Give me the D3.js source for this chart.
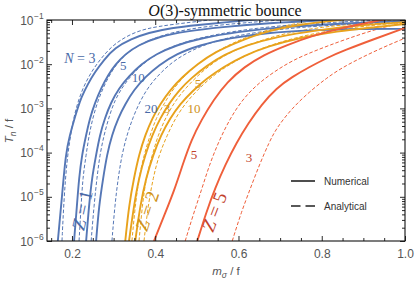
<!DOCTYPE html>
<html><head><meta charset="utf-8">
<script src="https://cdn.jsdelivr.net/npm/d3@7"></script>
<style>body{margin:0;background:#fff;} svg{display:block}</style>
</head><body>
<svg id="c" width="415" height="282"></svg>
<script>
// ---------- data (x = m_sigma / f, y = log10(T_n / f)) ----------
const xMajorTicks = [0.2, 0.4, 0.6, 0.8, 1.0];
const xMinorTicks = [0.15,0.25,0.3,0.35,0.45,0.5,0.55,0.65,0.7,0.75,0.85,0.9,0.95];
const yDecadeExps = [-6, -5, -4, -3, -2, -1];

// Z = 1 (blue)
const z1N3Num = [[0.166,-6.00],[0.176,-5.00],[0.185,-4.01],[0.195,-3.60],[0.205,-3.26],[0.214,-2.99],[0.222,-2.76],[0.238,-2.45],[0.255,-2.18],[0.277,-1.90],[0.303,-1.63],[0.342,-1.43],[0.383,-1.29],[0.438,-1.18],[0.503,-1.11],[0.571,-1.05],[0.655,-0.98]];
const z1N3Ana = [[0.176,-6.00],[0.181,-5.00],[0.188,-4.17],[0.195,-3.71],[0.202,-3.31],[0.212,-2.92],[0.226,-2.54],[0.246,-2.18],[0.270,-1.86],[0.303,-1.52],[0.354,-1.25],[0.407,-1.14],[0.487,-1.05],[0.547,-0.98]];
const z1N5Num = [[0.205,-6.00],[0.212,-5.19],[0.217,-4.57],[0.224,-4.05],[0.234,-3.60],[0.243,-3.22],[0.255,-2.88],[0.270,-2.54],[0.287,-2.24],[0.303,-2.02],[0.328,-1.77],[0.359,-1.57],[0.407,-1.38],[0.475,-1.25],[0.559,-1.16],[0.667,-1.07],[0.824,-1.00]];
const z1N5Ana = [[0.217,-6.00],[0.222,-5.19],[0.226,-4.57],[0.234,-4.05],[0.241,-3.60],[0.250,-3.22],[0.262,-2.83],[0.277,-2.49],[0.294,-2.18],[0.315,-1.90],[0.344,-1.66],[0.385,-1.45],[0.443,-1.27],[0.523,-1.14],[0.631,-1.05],[0.728,-0.98]];
const z1N10Num = [[0.234,-6.00],[0.241,-5.19],[0.248,-4.57],[0.258,-4.05],[0.267,-3.60],[0.279,-3.22],[0.294,-2.86],[0.313,-2.54],[0.337,-2.27],[0.366,-2.00],[0.402,-1.77],[0.450,-1.57],[0.511,-1.41],[0.595,-1.27],[0.703,-1.16],[0.824,-1.09],[1.0,-1.02]];
const z1N10Ana = [[0.246,-6.00],[0.253,-5.19],[0.260,-4.57],[0.267,-4.05],[0.277,-3.60],[0.289,-3.19],[0.303,-2.81],[0.323,-2.49],[0.347,-2.20],[0.378,-1.93],[0.419,-1.68],[0.475,-1.48],[0.547,-1.32],[0.643,-1.18],[0.752,-1.09],[0.896,-1.02],[1.0,-0.98]];
const z1N20Num = [[0.258,-6.00],[0.265,-5.19],[0.275,-4.57],[0.284,-4.05],[0.296,-3.60],[0.311,-3.22],[0.328,-2.90],[0.349,-2.58],[0.376,-2.29],[0.409,-2.02],[0.450,-1.77],[0.506,-1.57],[0.578,-1.41],[0.667,-1.29],[0.776,-1.23],[0.896,-1.20],[1.0,-1.20]];
const z1N20Ana = [[0.296,-6.00],[0.303,-5.19],[0.311,-4.57],[0.320,-4.05],[0.332,-3.60],[0.347,-3.19],[0.364,-2.83],[0.385,-2.49],[0.414,-2.18],[0.450,-1.88],[0.499,-1.63],[0.559,-1.43],[0.643,-1.27],[0.752,-1.16],[0.872,-1.09],[1.0,-1.05]];

// Z = 2 (orange)
const z2N3Num = [[0.328,-6.00],[0.337,-5.19],[0.349,-4.57],[0.361,-4.05],[0.376,-3.60],[0.393,-3.22],[0.412,-2.90],[0.436,-2.58],[0.465,-2.29],[0.501,-2.00],[0.544,-1.72],[0.602,-1.48],[0.667,-1.25],[0.752,-1.09],[0.848,-1.00]];
const z2N3Ana = [[0.344,-6.00],[0.352,-5.19],[0.361,-4.57],[0.373,-4.05],[0.388,-3.60],[0.402,-3.22],[0.422,-2.88],[0.443,-2.56],[0.472,-2.24],[0.508,-1.95],[0.552,-1.68],[0.607,-1.43],[0.667,-1.23],[0.740,-1.07],[0.800,-0.98]];
const z2N5Num = [[0.337,-6.00],[0.349,-5.19],[0.361,-4.57],[0.376,-4.05],[0.393,-3.60],[0.412,-3.22],[0.434,-2.88],[0.458,-2.58],[0.487,-2.31],[0.523,-2.04],[0.564,-1.79],[0.619,-1.57],[0.691,-1.38],[0.788,-1.23],[0.896,-1.11],[1.0,-1.05]];
const z2N5Ana = [[0.361,-6.00],[0.369,-5.19],[0.378,-4.57],[0.393,-4.05],[0.407,-3.60],[0.426,-3.19],[0.448,-2.83],[0.475,-2.52],[0.506,-2.22],[0.544,-1.93],[0.590,-1.68],[0.648,-1.48],[0.715,-1.29],[0.800,-1.16],[0.896,-1.07],[0.992,-0.98]];
const z2N10Num = [[0.352,-6.00],[0.364,-5.19],[0.378,-4.57],[0.395,-4.05],[0.414,-3.60],[0.436,-3.22],[0.460,-2.90],[0.489,-2.61],[0.523,-2.33],[0.564,-2.06],[0.612,-1.81],[0.672,-1.59],[0.744,-1.41],[0.836,-1.25],[0.932,-1.16],[1.0,-1.09]];
const z2N10Ana = [[0.373,-6.00],[0.383,-5.19],[0.395,-4.57],[0.409,-4.05],[0.429,-3.60],[0.450,-3.19],[0.477,-2.83],[0.508,-2.52],[0.544,-2.22],[0.588,-1.95],[0.638,-1.70],[0.699,-1.50],[0.771,-1.32],[0.860,-1.18],[0.956,-1.09],[1.0,-1.05]];

// Z = 5 (red)
const z5N5Num = [[0.397,-6.00],[0.422,-5.41],[0.446,-4.85],[0.467,-4.24],[0.487,-3.71],[0.511,-3.26],[0.540,-2.81],[0.573,-2.40],[0.614,-2.06],[0.660,-1.79],[0.715,-1.57],[0.776,-1.36],[0.848,-1.18],[0.932,-1.02],[0.956,-0.98]];
const z5N5Ana = [[0.472,-6.00],[0.491,-5.41],[0.511,-4.85],[0.530,-4.28],[0.552,-3.76],[0.578,-3.26],[0.607,-2.83],[0.643,-2.47],[0.684,-2.18],[0.732,-1.90],[0.788,-1.68],[0.853,-1.45],[0.932,-1.20],[1.0,-1.05]];
const z5N3Num = [[0.501,-6.00],[0.523,-5.34],[0.544,-4.80],[0.568,-4.28],[0.595,-3.78],[0.624,-3.33],[0.655,-2.92],[0.691,-2.54],[0.730,-2.28],[0.771,-2.06],[0.812,-1.86],[0.853,-1.69],[0.932,-1.41],[1.0,-1.18]];
const z5N3Ana = [[0.585,-6.00],[0.607,-5.34],[0.629,-4.80],[0.650,-4.28],[0.674,-3.76],[0.691,-3.45],[0.728,-3.00],[0.771,-2.62],[0.812,-2.31],[0.853,-2.05],[0.932,-1.68],[1.0,-1.41]];

// N labels: [text, m, log10 T]
const blueNLabels = [["5",0.323,-2.02],["10",0.359,-2.29],["20",0.390,-2.99]];
const orangeNLabels = [["3",0.428,-2.99],["5",0.503,-2.43],["10",0.493,-2.99]];
const redNLabels = [["5",0.493,-4.05],["3",0.625,-4.10]];
const zLabels = [["1",0.224,-5.30],["2",0.380,-5.32],["5",0.541,-5.34]];

// ---------- drawing ----------
const C = {blue:"#5577b6", orange:"#e8a21c", red:"#ef5f3a"};
const CT = {blue:"#4a6aa8", orange:"#cf9218", red:"#c2412b"};
const svg = d3.select("#c");
const L=47, R=405, T=20, B=241;
const x = d3.scaleLinear().domain([0.14,1.0]).range([L,R]);
const y = d3.scaleLog().domain([1e-6,1e-1]).range([B,T]);

svg.append("defs").append("clipPath").attr("id","clip")
  .append("rect").attr("x",L).attr("y",T).attr("width",R-L).attr("height",B-T);

const curves = [
  [z1N3Ana,"blue",true],[z1N5Ana,"blue",true],[z1N10Ana,"blue",true],[z1N20Ana,"blue",true],
  [z2N3Ana,"orange",true],[z2N5Ana,"orange",true],[z2N10Ana,"orange",true],
  [z5N5Ana,"red",true],[z5N3Ana,"red",true],
  [z1N3Num,"blue",false],[z1N5Num,"blue",false],[z1N10Num,"blue",false],[z1N20Num,"blue",false],
  [z2N3Num,"orange",false],[z2N5Num,"orange",false],[z2N10Num,"orange",false],
  [z5N5Num,"red",false],[z5N3Num,"red",false]
];
const line = d3.line().x(d=>x(d[0])).y(d=>y(Math.pow(10,d[1]))).curve(d3.curveBasis);
const g = svg.append("g").attr("clip-path","url(#clip)");
curves.forEach(([d,fam,dash])=>{
  g.append("path").attr("d",line(d)).attr("fill","none")
   .attr("stroke",C[fam]).attr("stroke-width",dash?1.0:1.9)
   .attr("stroke-dasharray",dash?"3.6,2":null);
});

// axes
const yMinor = [];
for (let e=-6;e<-1;e++) for (let k=2;k<=9;k++) yMinor.push(k*Math.pow(10,e));
const yMajor = yDecadeExps.map(e=>Math.pow(10,e));
function addAxis(axis, tx, ty){
  const a = svg.append("g").attr("transform",`translate(${tx},${ty})`).call(axis);
  a.select(".domain").remove();
  a.selectAll("line").attr("stroke","#111").attr("stroke-width",0.9);
  return a;
}
const bx = addAxis(d3.axisBottom(x).tickValues(xMajorTicks).tickSize(-5).tickPadding(8).tickFormat(d3.format(".1f")),0,B);
bx.selectAll("text").attr("font-family","Liberation Sans, Arial, sans-serif").attr("font-size",12).attr("fill","#555");
addAxis(d3.axisBottom(x).tickValues(xMinorTicks).tickSize(-3).tickFormat(""),0,B);
addAxis(d3.axisTop(x).tickValues(xMajorTicks).tickSize(-5).tickFormat(""),0,T);
addAxis(d3.axisTop(x).tickValues(xMinorTicks).tickSize(-3).tickFormat(""),0,T);
addAxis(d3.axisLeft(y).tickValues(yMajor).tickSize(-5).tickFormat(""),L,0);
addAxis(d3.axisLeft(y).tickValues(yMinor).tickSize(-3).tickFormat(""),L,0);
addAxis(d3.axisRight(y).tickValues(yMajor).tickSize(-5).tickFormat(""),R,0);
addAxis(d3.axisRight(y).tickValues(yMinor).tickSize(-3).tickFormat(""),R,0);

svg.append("rect").attr("x",L).attr("y",T).attr("width",R-L).attr("height",B-T)
  .attr("fill","none").attr("stroke","#111").attr("stroke-width",1.1);

// y tick labels 10^e
yDecadeExps.forEach(e=>{
  svg.append("text").attr("x",33.5).attr("y",y(Math.pow(10,e))+4.5)
    .attr("font-family","Liberation Sans, Arial, sans-serif").attr("font-size",12).attr("fill","#555")
    .attr("text-anchor","end").text("10");
  svg.append("text").attr("x",34).attr("y",y(Math.pow(10,e))-1.5)
    .attr("font-family","Liberation Sans, Arial, sans-serif").attr("font-size",8.5).attr("fill","#555")
    .text("\u2212"+Math.abs(e));
});

// axis labels
const yl = svg.append("text").attr("transform","translate(13,131) rotate(-90)")
  .attr("text-anchor","middle").attr("font-family","Liberation Sans, Arial, sans-serif").attr("font-size",11.5).attr("fill","#555");
yl.append("tspan").attr("font-style","italic").text("T");
yl.append("tspan").attr("font-style","italic").attr("font-size",8.5).attr("dy",2.5).text("n");
yl.append("tspan").attr("dy",-2.5).text(" / f");

const xl = svg.append("text").attr("x",226).attr("y",275)
  .attr("text-anchor","middle").attr("font-family","Liberation Sans, Arial, sans-serif").attr("font-size",11.5).attr("fill","#555");
xl.append("tspan").attr("font-style","italic").text("m");
xl.append("tspan").attr("font-style","italic").attr("font-size",8.5).attr("dy",2.5).text("σ");
xl.append("tspan").attr("dy",-2.5).text(" / f");

// title
const tt = svg.append("text").attr("x",225).attr("y",16).attr("text-anchor","middle")
  .attr("font-family","Liberation Serif, Times New Roman, serif").attr("font-size",16).attr("fill","#111");
tt.append("tspan").attr("font-style","italic").text("O");
tt.append("tspan").text("(3)-symmetric bounce");

// curve labels
const serif = "Liberation Serif, Times New Roman, serif";
const nl = svg.append("text").attr("x",x(0.219)).attr("y",y(Math.pow(10,-1.86))).attr("dy","0.35em")
  .attr("text-anchor","middle").attr("font-family",serif).attr("font-size",14).attr("fill",CT.blue);
nl.append("tspan").attr("font-style","italic").text("N");
nl.append("tspan").text(" = 3");
[[blueNLabels,"blue"],[orangeNLabels,"orange"],[redNLabels,"red"]].forEach(([arr,fam])=>{
  arr.forEach(([t,m,lt])=>{
    svg.append("text").attr("x",x(m)).attr("y",y(Math.pow(10,lt))).attr("dy","0.35em")
      .attr("text-anchor","middle").attr("font-family",serif).attr("font-size",13).attr("fill",CT[fam]).text(t);
  });
});
const zAngles = [-77,-72,-69];
const zFams = ["blue","orange","red"];
zLabels.forEach(([t,m,lt],i)=>{
  const z = svg.append("text").attr("transform",`translate(${x(m)},${y(Math.pow(10,lt))}) rotate(${zAngles[i]})`)
    .attr("dy","0.35em").attr("text-anchor","middle").attr("font-family",serif).attr("font-size",19).attr("fill",CT[zFams[i]]);
  z.append("tspan").attr("font-style","italic").text("Z");
  z.append("tspan").text(" = "+t);
});

// legend
const lg = svg.append("g");
lg.append("line").attr("x1",291).attr("x2",315).attr("y1",181).attr("y2",181).attr("stroke","#222").attr("stroke-width",1.6);
lg.append("line").attr("x1",291).attr("x2",315).attr("y1",206).attr("y2",206).attr("stroke","#222").attr("stroke-width",1.6).attr("stroke-dasharray","9.5,5");
lg.append("text").attr("x",324).attr("y",184.5).attr("font-family","Liberation Sans, Arial, sans-serif").attr("font-size",10).attr("fill","#333").text("Numerical");
lg.append("text").attr("x",324).attr("y",209.5).attr("font-family","Liberation Sans, Arial, sans-serif").attr("font-size",10).attr("fill","#333").text("Analytical");
</script>
</body></html>
